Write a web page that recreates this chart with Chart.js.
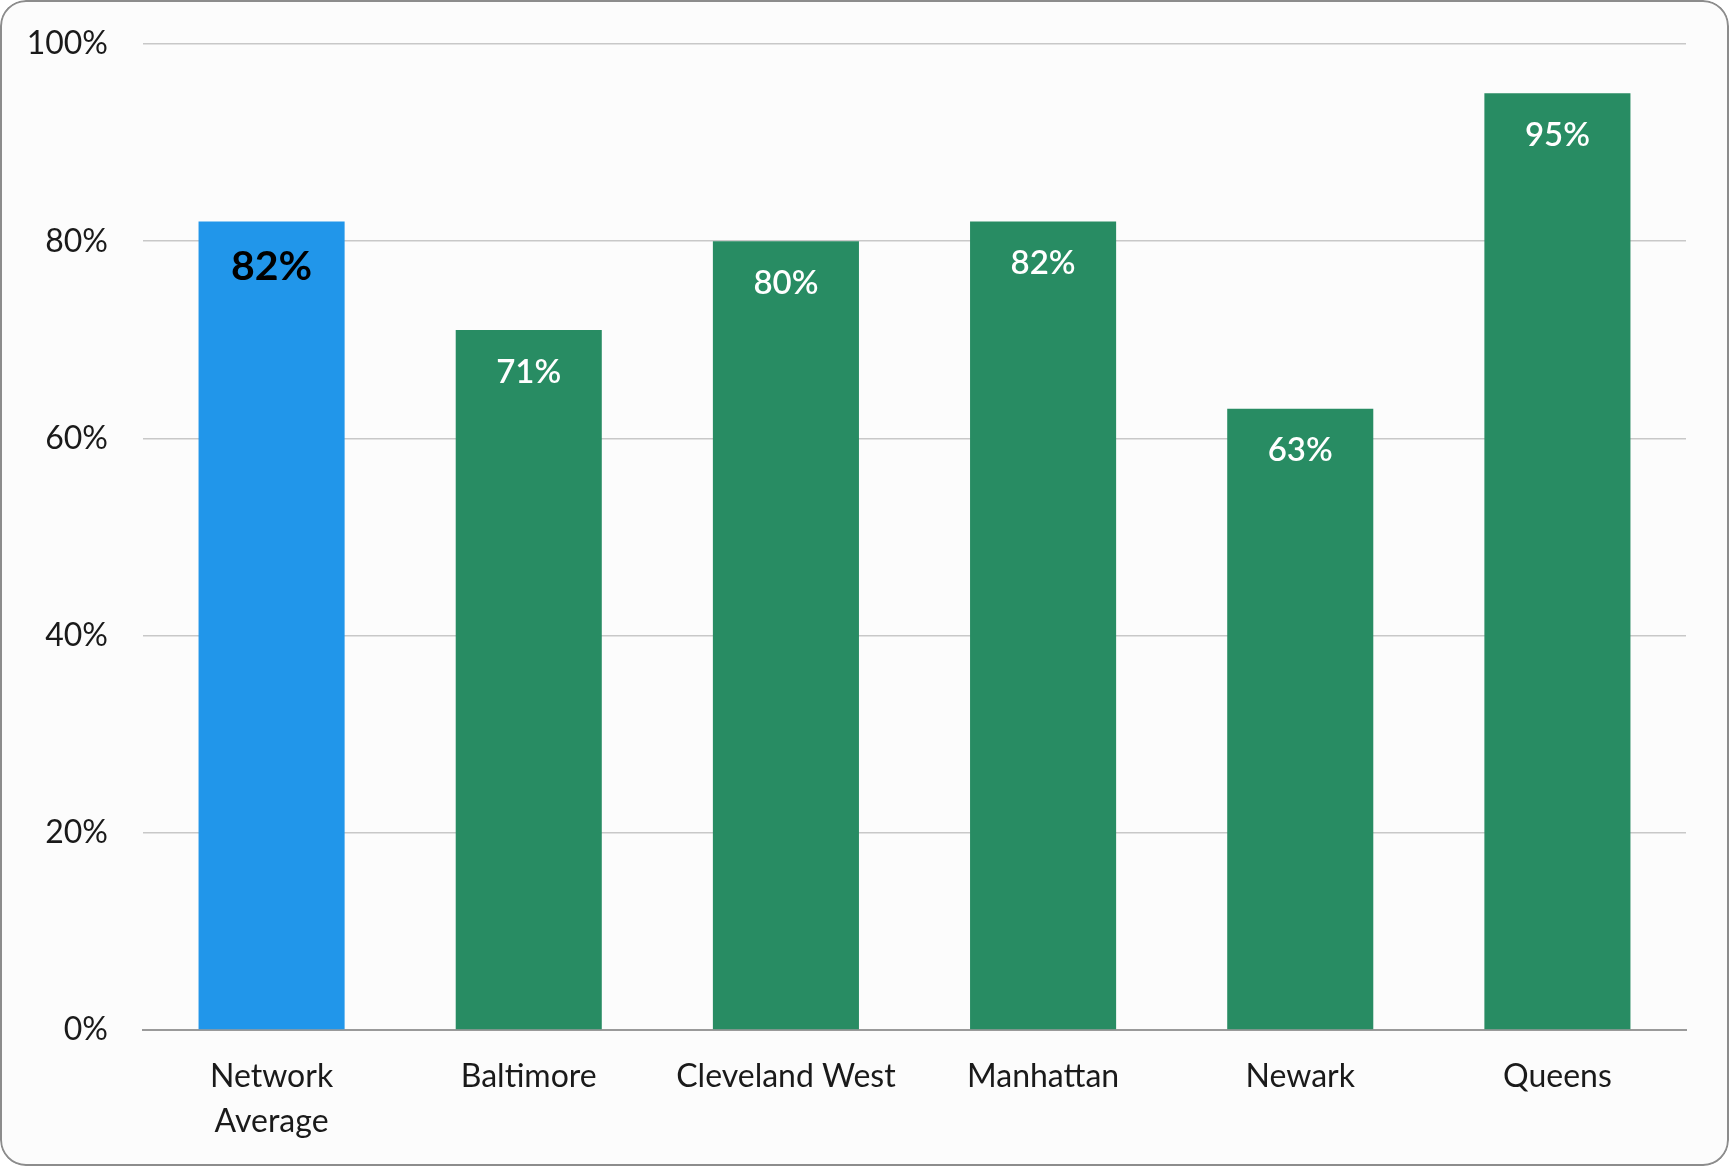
<!DOCTYPE html>
<html>
<head>
<meta charset="utf-8">
<script src="https://cdn.jsdelivr.net/npm/chart.js@4.4.1/dist/chart.umd.min.js"></script>
<style>
  html, body { margin: 0; padding: 0; background: #ffffff; }
  .card {
    position: relative;
    width: 1729px;
    height: 1166px;
    background: #fcfcfc;
    border-radius: 26px;
    overflow: hidden;
  }
  .card::after {
    content: '';
    position: absolute;
    inset: 0;
    border: 2px solid #8c8c8c;
    border-radius: 26px;
    pointer-events: none;
  }
  canvas { display: block; }
</style>
</head>
<body>
<div class="card">
  <canvas id="rateChart" width="1729" height="1166"></canvas>
</div>
<script>
'use strict';

// ── Data ──────────────────────────────────────────────────────────────────
const SITES = [['Network', 'Average'], 'Baltimore', 'Cleveland West', 'Manhattan', 'Newark', 'Queens'];
const RATES = [82, 71, 80, 82, 63, 95];
const Y_TICKS = [0, 20, 40, 60, 80, 100];

const BLUE = '#2196ea';
const GREEN = '#288c63';
const FONT = 'Lato, "Noto Sans", sans-serif';

// first bar is the network benchmark, the rest are sites
const barColors = RATES.map((_, i) => (i === 0 ? BLUE : GREEN));

/**
 * barValueLabels
 * Writes the percentage inside the top of each bar.
 */
const barValueLabels = {
    id: 'barValueLabels',
    afterDatasetsDraw(chart) {
        const ctx = chart.ctx;
        const meta = chart.getDatasetMeta(0);
        ctx.save();
        ctx.textAlign = 'center';
        ctx.textBaseline = 'middle';
        meta.data.forEach((bar, i) => {
            const text = RATES[i] + '%';
            if (i === 0) {
                ctx.font = 'bold 41px ' + FONT;
                ctx.fillStyle = '#000000';
                ctx.fillText(text, bar.x, bar.y + 45);
            } else {
                ctx.font = '600 33px ' + FONT;
                ctx.fillStyle = '#ffffff';
                ctx.fillText(text, bar.x, bar.y + 42);
            }
        });
        ctx.restore();
    },
};

new Chart(document.getElementById('rateChart'), {
    type: 'bar',
    data: {
        labels: SITES,
        datasets: [{
            data: RATES,
            backgroundColor: barColors,
            borderWidth: 0,
            categoryPercentage: 1.0,
            barPercentage: 0.568,
        }],
    },
    options: {
        responsive: false,
        animation: false,
        devicePixelRatio: 1,
        layout: { padding: { top: 44, right: 43, bottom: 0, left: 0 } },
        plugins: {
            legend: { display: false },
            tooltip: { enabled: false },
        },
        scales: {
            x: {
                grid: { display: false, drawTicks: false },
                border: { display: true, color: '#9a9a9a', width: 2 },
                ticks: {
                    color: '#1a1a1a',
                    padding: 24,
                    maxRotation: 0,
                    font: { family: FONT, size: 32, lineHeight: 1.42 },
                },
                afterFit: axis => { axis.height = 136; },
            },
            y: {
                min: 0,
                max: 100,
                afterBuildTicks: axis => { axis.ticks = Y_TICKS.map(v => ({ value: v })); },
                grid: {
                    color: '#c8c8c8',
                    lineWidth: 1.5,
                    drawTicks: false,
                },
                border: { display: false },
                ticks: {
                    color: '#1a1a1a',
                    padding: 35,
                    font: { family: FONT, size: 32 },
                    callback: v => v + '%',
                },
                afterFit: axis => {
                    axis.width = 143;
                    axis.paddingTop = 0;
                    axis.paddingBottom = 0;
                },
            },
        },
    },
    plugins: [barValueLabels],
});
</script>
</body>
</html>
